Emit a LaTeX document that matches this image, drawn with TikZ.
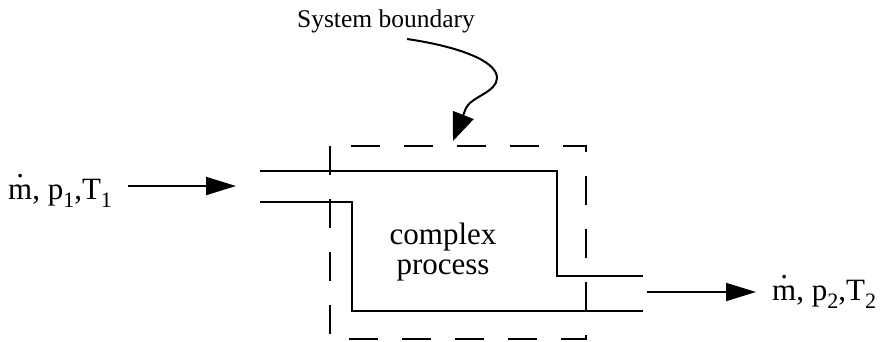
\documentclass[tikz,border=0pt]{standalone}
\usepackage{fontspec}
\setmainfont{Liberation Serif}
\usetikzlibrary{arrows.meta,positioning}

\newcommand{\lowsub}[1]{\raisebox{-8pt}{\fontsize{22}{22}\selectfont #1}}
\newcommand{\mdot}{{\ooalign{m\cr\hidewidth\raisebox{22pt}{.}\hidewidth\cr}}}
\newcommand{\flowlabel}[1]{\mdot, p\lowsub{#1},T\lowsub{#1}}

\begin{document}
\begin{tikzpicture}[x=1pt,y=-1pt,
  pipe/.style={line width=2pt},
  boundary/.style={line width=2pt,dash pattern=on 29pt off 24pt},
  flow/.style={line width=2pt,-{Triangle[length=30pt,width=18pt]}},
  big/.style={font=\fontsize{31}{35}\selectfont,inner sep=0pt},
  small/.style={font=\fontsize{25.5}{28}\selectfont,inner sep=0pt}]

  \useasboundingbox (0,0) rectangle (882,341);

  % pipe corners
  \coordinate (upA) at (260,170.5);
  \coordinate (upB) at (557,170.5);
  \coordinate (upC) at (557,276);
  \coordinate (upD) at (643,276);
  \coordinate (loA) at (260,201.5);
  \coordinate (loB) at (352,201.5);
  \coordinate (loC) at (352,311);
  \coordinate (loD) at (643,311);

  % pipe walls
  \draw[pipe] (upA) -- (upB) -- (upC) -- (upD);
  \draw[pipe] (loA) -- (loB) -- (loC) -- (loD);

  % system boundary
  \draw[boundary] (330,146) rectangle (586,339);
  \node[big, align=center] (proc) at (443,252) {complex\\[-5pt]process};

  % inlet and outlet
  \node[big, anchor=base west] (inlab) at (8,199) {\flowlabel{1}};
  \coordinate (inTip) at (236,186);
  \draw[flow] (128,186) -- (inTip);

  \coordinate (outTail) at (647,292);
  \coordinate (outTip) at (756,292);
  \draw[flow] (outTail) -- (outTip);
  \node[big, anchor=base west] (outlab) at (772,300) {\flowlabel{2}};

  % boundary callout
  \node[small] (sys) at (386,21) {System boundary};
  \coordinate (sysTip) at (453,141);
  \draw[line width=2pt,-{Triangle[length=28pt,width=22pt]}]
    (407,39) .. controls (455,46) and (497,60) .. (497,78)
    .. controls (497,92) and (471,97) .. (466,108) -- (sysTip);

\end{tikzpicture}
\end{document}
